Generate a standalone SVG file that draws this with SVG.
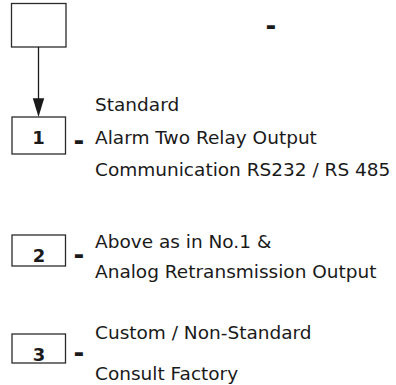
<svg xmlns="http://www.w3.org/2000/svg" width="396" height="385" viewBox="0 0 396 385">
<style>
.box{fill:#fff;stroke:#2b2b2b;stroke-width:1.3}
.lbl{font-family:"DejaVu Sans",Verdana,sans-serif;font-size:18.5px;fill:#1a1a1a}
.num{font-family:"DejaVu Sans",Verdana,sans-serif;font-size:18px;font-weight:bold;fill:#1a1a1a;text-anchor:middle}
.dash{font-family:"DejaVu Sans",Verdana,sans-serif;font-size:26px;font-weight:bold;fill:#1a1a1a;text-anchor:middle}
.conn{stroke:#1a1a1a;stroke-width:1.3;fill:none}
.head{fill:#1a1a1a}
</style>
<g id="top">
<rect class="box" x="11.5" y="3.5" width="54.5" height="43.5"/>
<text class="dash" x="271" y="35">-</text>
</g>
<g id="connectors">
<line class="conn" x1="38.5" y1="47" x2="38.5" y2="100"/>
<path class="head" d="M32.8,98.3 L44.2,98.3 L38.5,117 Z"/>
</g>
<g id="opt1">
<rect class="box" x="12" y="117" width="53.5" height="37"/>
<text class="num" x="38.5" y="144">1</text>
<text class="dash" x="79" y="150">-</text>
<text class="lbl" x="95" y="111">Standard</text>
<text class="lbl" x="95" y="144">Alarm Two Relay Output</text>
<text class="lbl" x="95" y="176">Communication RS232 / RS 485</text>
</g>
<g id="opt2">
<rect class="box" x="12" y="235" width="53.5" height="31"/>
<text class="num" x="39" y="261.5">2</text>
<text class="dash" x="79" y="263.5">-</text>
<text class="lbl" x="95" y="248">Above as in No.1 &amp;</text>
<text class="lbl" x="95" y="278">Analog Retransmission Output</text>
</g>
<g id="opt3">
<rect class="box" x="12" y="334" width="53.5" height="29"/>
<text class="num" x="39" y="360.5">3</text>
<text class="dash" x="79" y="361.5">-</text>
<text class="lbl" x="95" y="339">Custom / Non-Standard</text>
<text class="lbl" x="95" y="379.5">Consult Factory</text>
</g>
</svg>
